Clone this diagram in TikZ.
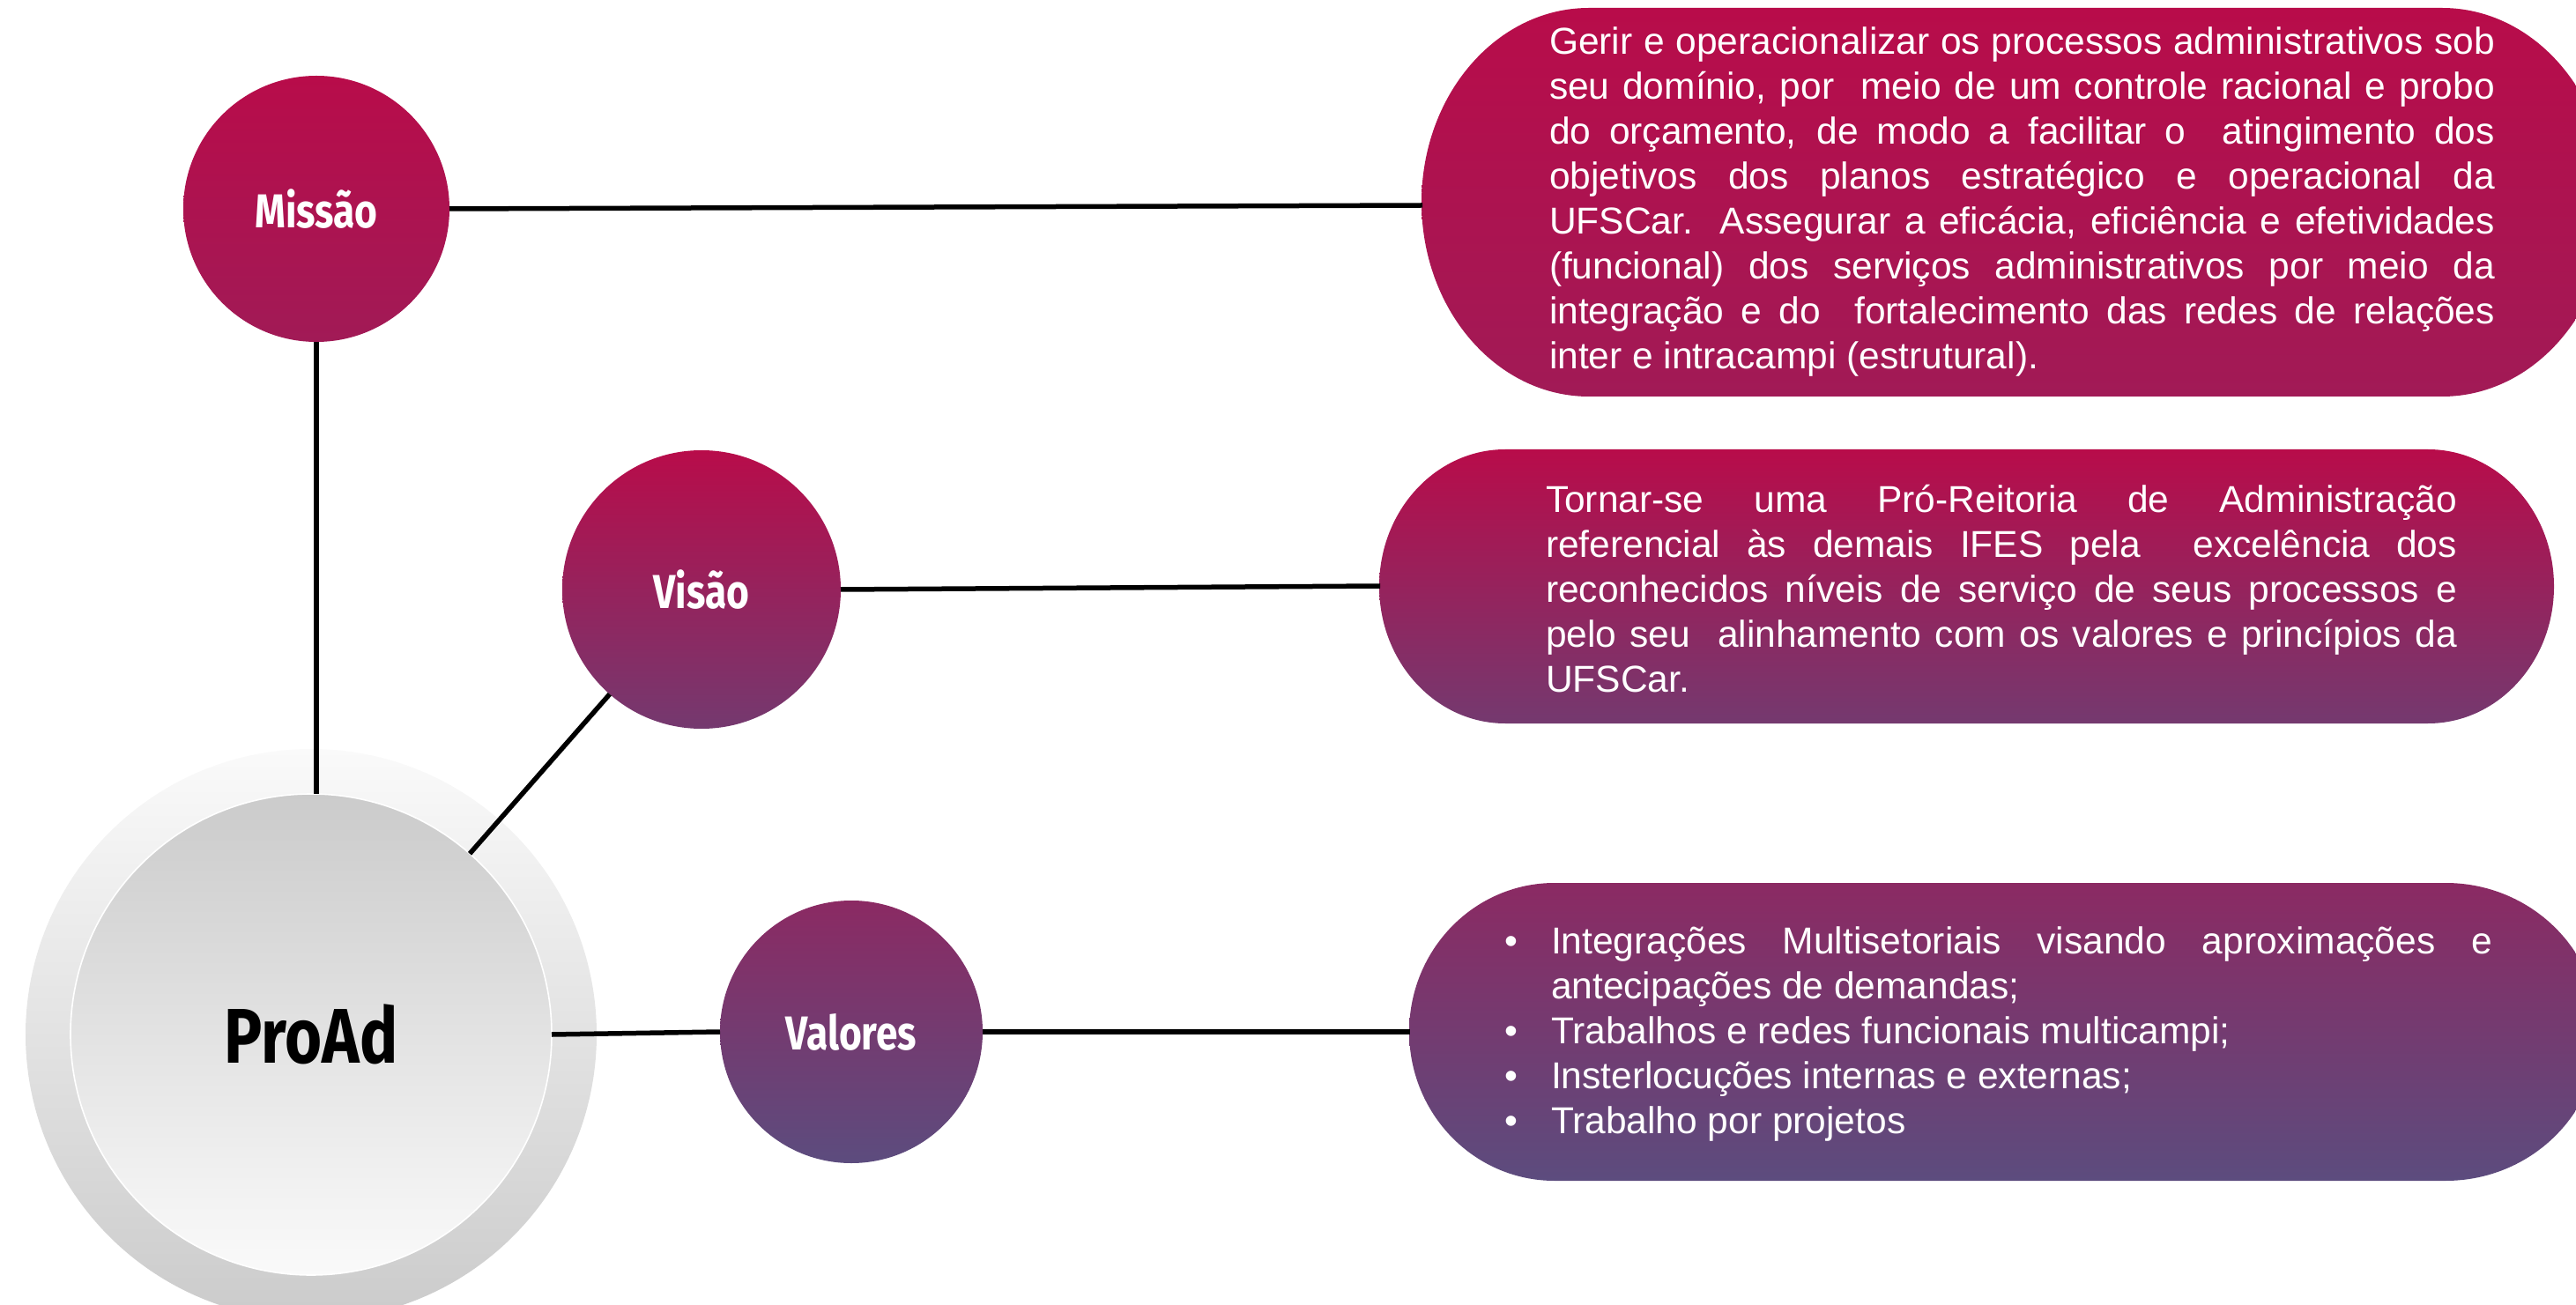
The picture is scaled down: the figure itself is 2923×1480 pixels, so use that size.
\documentclass[tikz,border=0pt]{standalone}
\usepackage{fontspec}
\setmainfont{Liberation Sans}
\newfontfamily\labelfont[FakeStretch=0.82]{Fira Sans}
\definecolor{crim}{RGB}{184,12,74}
\definecolor{crimb}{RGB}{161,26,86}
\definecolor{visb}{RGB}{116,57,111}
\definecolor{valt}{RGB}{139,42,99}
\definecolor{valb}{RGB}{92,76,126}
\definecolor{gA}{RGB}{250,250,250}
\definecolor{gB}{RGB}{203,203,203}
\newcommand\bulletmark{\leavevmode\llap{•\hspace{19pt}}}
\begin{document}
\begin{tikzpicture}[x=0.5pt,y=0.5pt,
  conn/.style={line width=2.75pt, black},
  bubble/.style={circle, inner sep=0pt, outer sep=0pt, text=white,
    font=\labelfont\bfseries\fontsize{27pt}{30pt}\selectfont},
  boxtext/.style={inner sep=0pt, outer sep=0pt, anchor=base west, text=white,
    font=\fontsize{21.25pt}{25.5pt}\selectfont}
]
\useasboundingbox (0,0) rectangle (2923,1480);
\clip (0,0) rectangle (2923,1480);

% boxes
\path[top color=crim, bottom color=crimb]
  (1803,1471) -- (2771,1471) arc[start angle=90, end angle=-90, x radius=95pt, y radius=110.25pt]
  -- (1803,1030) arc[start angle=270, end angle=90, x radius=95pt, y radius=110.25pt] -- cycle;
\path[top color=crim, bottom color=visb]
  (1708,970) -- (2755,970) arc[start angle=90, end angle=-90, x radius=71.5pt, y radius=77.75pt]
  -- (1708,659) arc[start angle=270, end angle=90, x radius=71.5pt, y radius=77.75pt] -- cycle;
\path[top color=valt, bottom color=valb]
  (1764,478) -- (2775,478) arc[start angle=90, end angle=-90, x radius=87pt, y radius=84.5pt]
  -- (1764,140) arc[start angle=270, end angle=90, x radius=82.5pt, y radius=84.5pt] -- cycle;
\coordinate (b1w) at (1614,1247);
\coordinate (b2w) at (1566,815);
\coordinate (b3w) at (1600,309);

% box texts
\node[boxtext] (t1) at (1758,1418) {\parbox[t]{536.5pt}{%
\makebox[\linewidth][s]{Gerir e operacionalizar os processos administrativos sob}\\
\makebox[\linewidth][s]{seu domínio, por\ \ meio de um controle racional e probo}\\
\makebox[\linewidth][s]{do orçamento, de modo a facilitar o\ \ atingimento dos}\\
\makebox[\linewidth][s]{objetivos dos planos estratégico e operacional da}\\
\makebox[\linewidth][s]{UFSCar.\ \ Assegurar a eficácia, eficiência e efetividades}\\
\makebox[\linewidth][s]{(funcional) dos serviços administrativos por meio da}\\
\makebox[\linewidth][s]{integração e do\ \ fortalecimento das redes de relações}\\
inter e intracampi (estrutural).}};

\node[boxtext] (t2) at (1754,898) {\parbox[t]{517pt}{%
\makebox[\linewidth][s]{Tornar-se uma Pró-Reitoria de Administração}\\
\makebox[\linewidth][s]{referencial às demais IFES pela\ \ excelência dos}\\
\makebox[\linewidth][s]{reconhecidos níveis de serviço de seus processos e}\\
\makebox[\linewidth][s]{pelo seu\ \ alinhamento com os valores e princípios da}\\
UFSCar.}};

\node[boxtext] (t3) at (1760,398) {\parbox[t]{534pt}{%
\bulletmark\makebox[\linewidth][s]{Integrações Multisetoriais visando aproximações e}\\
antecipações de demandas;\\
\bulletmark Trabalhos e redes funcionais multicampi;\\
\bulletmark Insterlocuções internas e externas;\\
\bulletmark Trabalho por projetos}};

% ProAd
\node[circle, inner sep=0pt, outer sep=0pt, minimum size=324pt, top color=gA, bottom color=gB] (proadring) at (353,306) {};
\node[circle, inner sep=0pt, outer sep=0pt, minimum size=273pt, top color=gB, bottom color=gA,
  draw=white, line width=0.8pt, text=black,
  font=\labelfont\bfseries\fontsize{44pt}{48pt}\selectfont] (proad) at (353,306) {ProAd};

% bubbles
\node[bubble, minimum size=151pt, top color=crim, bottom color=crimb] (missao) at (359,1243) {Missão};
\node[bubble, minimum size=158pt, top color=crim, bottom color=visb] (visao) at (796,811) {Visão};
\node[bubble, minimum size=149pt, top color=valt, bottom color=valb] (valores) at (966,309) {Valores};

% connectors
\draw[conn] (missao.south) -- (missao.south |- proad.north);
\draw[conn] (visao) -- (proad);
\draw[conn] (proad.east) -- (valores.west);
\draw[conn] (missao.east) -- (b1w);
\draw[conn] (visao.east) -- (b2w);
\draw[conn] (valores.east) -- (b3w);
\end{tikzpicture}
\end{document}
